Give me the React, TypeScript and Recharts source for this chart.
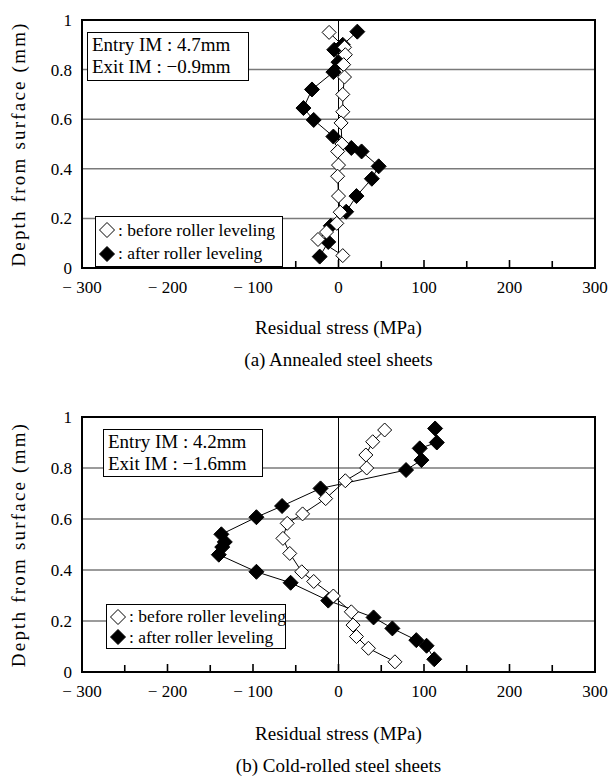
import {
  ScatterChart,
  Scatter,
  XAxis,
  YAxis,
  CartesianGrid,
  ReferenceLine,
  ReferenceArea,
  Legend,
} from 'recharts'

const FONT = 'Liberation Serif'

const STRESS_TICKS = [-300, -250, -200, -150, -100, -50, 0, 50, 100, 150, 200, 250, 300]
const DEPTH_TICKS = [0, 0.2, 0.4, 0.6, 0.8, 1]

// (a) annealed sheets
const annealedDepthBefore = [0.95, 0.89, 0.86, 0.82, 0.77, 0.7, 0.63, 0.585, 0.5, 0.47, 0.415, 0.37, 0.29, 0.225, 0.18, 0.145, 0.115, 0.05]
const annealedStressBefore = [-11, 7, 8, 6, 7, 5, 5, 3, 4, -1, 0, -1, 0, 2, -2, -14, -24, 5]
const annealedDepthAfter = [0.953, 0.9, 0.88, 0.83, 0.79, 0.72, 0.645, 0.597, 0.53, 0.484, 0.47, 0.41, 0.36, 0.29, 0.227, 0.17, 0.105, 0.046]
const annealedStressAfter = [22, 5, -5, 0, -6, -31, -41, -29, -6, 15, 27, 47, 39, 21, 9, -9, -12, -22]

// (b) cold-rolled sheets
const coldDepthBefore = [0.949, 0.903, 0.851, 0.8, 0.75, 0.68, 0.62, 0.583, 0.524, 0.465, 0.393, 0.355, 0.298, 0.236, 0.184, 0.139, 0.093, 0.04]
const coldStressBefore = [54, 40, 32, 33, 8, -15, -42, -60, -65, -57, -43, -29, -6, 15, 17, 21, 35, 66]
const coldDepthAfter = [0.955, 0.9, 0.877, 0.831, 0.792, 0.72, 0.651, 0.607, 0.54, 0.51, 0.49, 0.46, 0.393, 0.35, 0.28, 0.214, 0.171, 0.125, 0.103, 0.05]
const coldStressAfter = [113, 115, 95, 97, 79, -21, -66, -96, -137, -133, -136, -140, -96, -56, -12, 41, 63, 91, 103, 112]

const LEGEND_ITEMS = [
  { label: 'before roller leveling', filled: false },
  { label: 'after roller leveling', filled: true },
]

const toPoints = (depth: number[], stress: number[]) =>
  depth.map((d, i) => ({ depth: d, stress: stress[i] }))

const formatStress = (v: number) => (v < 0 ? `\u2212 ${-v}` : `${v}`)

const diamondPoints = (cx: number, cy: number, r: number) =>
  `${cx},${cy - r} ${cx + r},${cy} ${cx},${cy + r} ${cx - r},${cy}`

const openDiamond = (props: any) => (
  <polygon points={diamondPoints(props.cx, props.cy, 7)} fill="#fff" stroke="#000" strokeWidth={1} />
)
const filledDiamond = (props: any) => (
  <polygon points={diamondPoints(props.cx, props.cy, 7.5)} fill="#000" stroke="#000" strokeWidth={1} />
)

// inward tick marks every 50 MPa, labels every 100
function makeStressTick(baseline: number) {
  return (props: any) => {
    const { x, y, payload } = props
    const v = payload.value as number
    const inner = v > -300 && v < 300
    return (
      <g>
        {inner && (
          <line x1={x} x2={x} y1={y} y2={y - (v % 100 === 0 ? 8 : 7)} stroke="#000" strokeWidth={1.6} />
        )}
        {v % 100 === 0 && (
          <text x={x} y={y + baseline} textAnchor="middle" fontSize={17} fontFamily={FONT} fill="#000">
            {formatStress(v)}
          </text>
        )}
      </g>
    )
  }
}

function DepthTick(props: any) {
  const { x, y, payload } = props
  return (
    <text x={x} y={y + 6} textAnchor="end" fontSize={17} fontFamily={FONT} fill="#000">
      {String(payload.value)}
    </text>
  )
}

interface Box {
  left: number
  top: number
  width: number
  height: number
}

interface PanelProps {
  top: number
  height: number
  marginBottom: number
  before: { depth: number; stress: number }[]
  after: { depth: number; stress: number }[]
  entry: string
  exit: string
  caption: string
  noteBox: Box
  legendBox: Box
  tickBaseline: number
  labelTop: number
  captionTop: number
}

function LegendBox({ box }: { box: Box }) {
  return (
    <div
      style={{
        width: box.width,
        height: box.height,
        boxSizing: 'border-box',
        border: '1.5px solid #000',
        background: '#fff',
        padding: '1px 0 0 2px',
        fontFamily: FONT,
        fontSize: 17.5,
        color: '#000',
        display: 'flex',
        flexDirection: 'column',
        justifyContent: 'center',
      }}
    >
      {LEGEND_ITEMS.map(item => (
        <div key={item.label} style={{ display: 'flex', alignItems: 'center', height: (box.height - 4) / 2, whiteSpace: 'nowrap' }}>
          <svg width={18} height={18} style={{ flex: 'none' }}>
            <polygon
              points={diamondPoints(9, 9, 7.5)}
              fill={item.filled ? '#000' : '#fff'}
              stroke="#000"
              strokeWidth={1}
            />
          </svg>
          <span style={{ marginLeft: 2 }}>: {item.label}</span>
        </div>
      ))}
    </div>
  )
}

function Panel(p: PanelProps) {
  const centerY = 20 + (p.height - 20 - p.marginBottom - 30) / 2
  return (
    <div style={{ position: 'absolute', left: 0, top: p.top, width: 612, height: p.height, fontFamily: FONT }}>
      <ScatterChart
        width={612}
        height={p.height}
        margin={{ top: 20, right: 17, left: 0, bottom: p.marginBottom }}
        style={{ fontFamily: FONT }}
      >
        <CartesianGrid horizontal vertical={false} stroke="#7a7a7a" strokeWidth={1.5} />
        <XAxis
          type="number"
          dataKey="stress"
          domain={[-300, 300]}
          ticks={STRESS_TICKS}
          interval={0}
          height={30}
          tickSize={0}
          tickMargin={0}
          axisLine={false}
          tickLine={false}
          tick={makeStressTick(p.tickBaseline)}
        />
        <YAxis
          type="number"
          dataKey="depth"
          domain={[0, 1]}
          ticks={DEPTH_TICKS}
          interval={0}
          width={82}
          tickSize={0}
          tickMargin={10}
          axisLine={false}
          tickLine={false}
          tick={DepthTick}
          label={() => (
            <text
              x={25}
              y={centerY}
              transform={`rotate(-90 25 ${centerY})`}
              textAnchor="middle"
              fontSize={19}
              fontFamily={FONT}
              letterSpacing={2.2}
              fill="#000"
            >
              Depth from surface (mm)
            </text>
          )}
        />
        <ReferenceLine x={0} stroke="#000" strokeWidth={1} />
        <ReferenceArea x1={-300} x2={300} y1={0} y2={1} fill="none" stroke="#000" strokeWidth={2} />
        <Legend
          layout="horizontal"
          verticalAlign="middle"
          align="center"
          wrapperStyle={{ left: p.legendBox.left, top: p.legendBox.top, width: 'auto' }}
          content={() => <LegendBox box={p.legendBox} />}
        />
        <Scatter
          name="after roller leveling"
          data={p.after}
          fill="#000"
          line={{ stroke: '#000', strokeWidth: 1 }}
          shape={filledDiamond}
          isAnimationActive={false}
        />
        <Scatter
          name="before roller leveling"
          data={p.before}
          fill="#fff"
          line={{ stroke: '#000', strokeWidth: 1 }}
          shape={openDiamond}
          isAnimationActive={false}
        />
      </ScatterChart>
      <div
        style={{
          position: 'absolute',
          left: p.noteBox.left,
          top: p.noteBox.top,
          width: p.noteBox.width,
          height: p.noteBox.height,
          boxSizing: 'border-box',
          border: '1.5px solid #000',
          background: '#fff',
          padding: '1px 0 0 4px',
          fontSize: 19,
          lineHeight: '22px',
          color: '#000',
          whiteSpace: 'nowrap',
        }}
      >
        <div>{p.entry}</div>
        <div>{p.exit}</div>
      </div>
      <div
        style={{
          position: 'absolute',
          left: 0,
          width: 677,
          top: p.labelTop,
          textAlign: 'center',
          fontSize: 19,
          lineHeight: '19px',
          color: '#000',
        }}
      >
        Residual stress (MPa)
      </div>
      <div
        style={{
          position: 'absolute',
          left: 0,
          width: 677,
          top: p.captionTop,
          textAlign: 'center',
          fontSize: 19,
          lineHeight: '19px',
          color: '#000',
        }}
      >
        {p.caption}
      </div>
    </div>
  )
}

export default function App() {
  return (
    <div style={{ position: 'absolute', left: 0, top: 0, width: 612, height: 776, background: '#fff' }}>
      <Panel
        top={0}
        height={380}
        marginBottom={82}
        before={toPoints(annealedDepthBefore, annealedStressBefore)}
        after={toPoints(annealedDepthAfter, annealedStressAfter)}
        entry="Entry IM : 4.7mm"
        exit={'Exit IM :  \u22120.9mm'}
        caption="(a) Annealed steel sheets"
        noteBox={{ left: 87, top: 32, width: 162, height: 49 }}
        legendBox={{ left: 95, top: 216, width: 188, height: 51 }}
        tickBaseline={25}
        labelTop={318}
        captionTop={350}
      />
      <Panel
        top={397}
        height={379}
        marginBottom={74}
        before={toPoints(coldDepthBefore, coldStressBefore)}
        after={toPoints(coldDepthAfter, coldStressAfter)}
        entry="Entry IM : 4.2mm"
        exit={'Exit IM :  \u22121.6mm'}
        caption="(b) Cold-rolled steel sheets"
        noteBox={{ left: 103, top: 32, width: 160, height: 48 }}
        legendBox={{ left: 106, top: 207, width: 180, height: 45 }}
        tickBaseline={25}
        labelTop={327}
        captionTop={359}
      />
    </div>
  )
}
